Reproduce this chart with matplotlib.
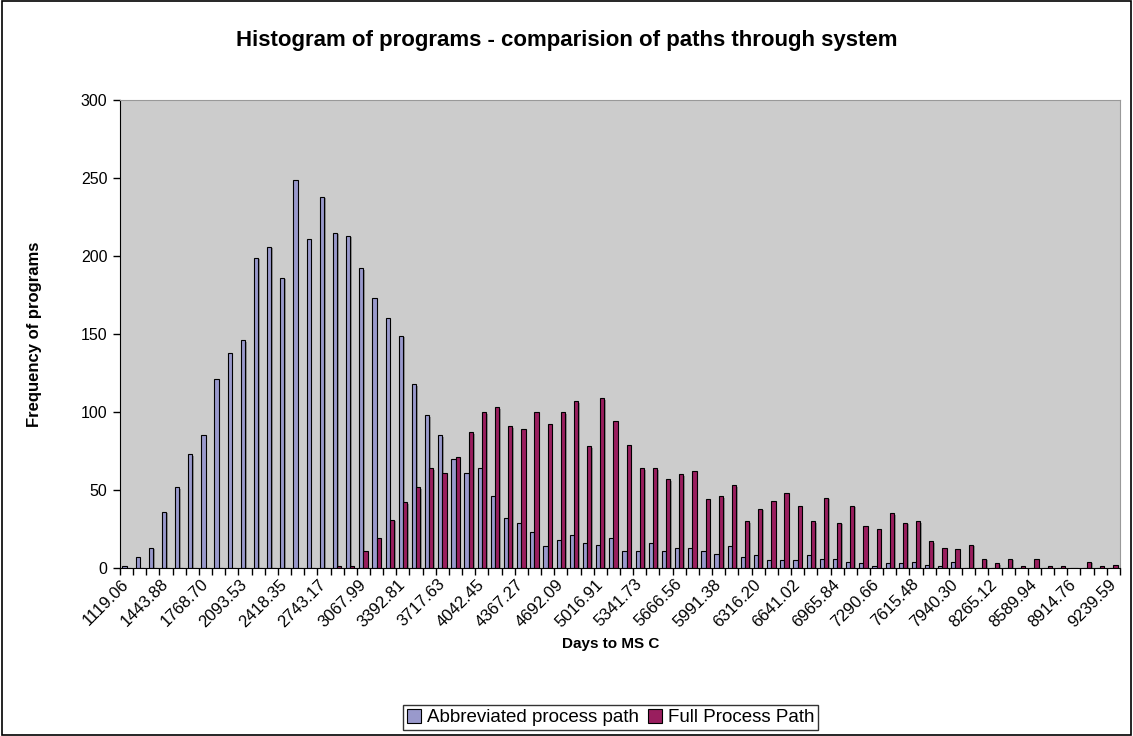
import matplotlib
matplotlib.use("Agg")
import matplotlib.pyplot as plt
import matplotlib.patheffects as pe
from matplotlib.patches import Rectangle
import numpy as np

plt.rcParams['font.family'] = ['Liberation Sans', 'DejaVu Sans']

# x axis labels (shown on every 3rd bin)
tick_labels = ['1119.06', '1443.88', '1768.70', '2093.53', '2418.35', '2743.17',
               '3067.99', '3392.81', '3717.63', '4042.45', '4367.27', '4692.09',
               '5016.91', '5341.73', '5666.56', '5991.38', '6316.20', '6641.02',
               '6965.84', '7290.66', '7615.48', '7940.30', '8265.12', '8589.94',
               '8914.76', '9239.59']

abbreviated = [1, 7, 13, 36, 52, 73, 85, 121, 138, 146,
               199, 206, 186, 249, 211, 238, 215, 213, 192, 173,
               160, 149, 118, 98, 85, 70, 61, 64, 46, 32,
               29, 23, 14, 18, 21, 16, 15, 19, 11, 11,
               16, 11, 13, 13, 11, 9, 14, 7, 8, 5,
               5, 5, 8, 6, 6, 4, 3, 1, 3, 3,
               4, 2, 1, 4, 0, 0, 0, 0, 0, 0,
               0, 0, 0, 0, 0, 0]

full_path = [0, 0, 0, 0, 0, 0, 0, 0, 0, 0,
             0, 0, 0, 0, 0, 0, 1, 1, 11, 19,
             31, 42, 52, 64, 61, 71, 87, 100, 103, 91,
             89, 100, 92, 100, 107, 78, 109, 94, 79, 64,
             64, 57, 60, 62, 44, 46, 53, 30, 38, 43,
             48, 40, 30, 45, 29, 40, 27, 25, 35, 29,
             30, 17, 13, 12, 15, 6, 3, 6, 1, 6,
             1, 1, 0, 4, 1, 2]

series_names = ['Abbreviated process path', 'Full Process Path']
blue = '#9999cc'
plum = '#991e5e'

fig = plt.figure(figsize=(11.33, 7.36), dpi=100)
fig.patches.append(Rectangle((0.002, 0.002), 0.996, 0.996, transform=fig.transFigure,
                             fill=False, edgecolor='black', linewidth=1.2))
ax = fig.add_axes([0.1059, 0.2283, 0.8826, 0.6359])
ax.set_facecolor('#cccccc')

ind = np.arange(len(abbreviated))
width = 0.32
shadow = [pe.SimplePatchShadow(offset=(1.2, -1.2), shadow_rgbFace='#777777', alpha=0.7), pe.Normal()]
b1 = ax.bar(ind - width / 2, abbreviated, width, color=blue, edgecolor='black',
            linewidth=0.8, label=series_names[0], path_effects=shadow)
b2 = ax.bar(ind + width / 2, full_path, width, color=plum, edgecolor='black',
            linewidth=0.8, label=series_names[1], path_effects=shadow)

ax.set_xticks(ind[::3])
ax.set_xticklabels(tick_labels, rotation=45, ha='right', va='center',
                   rotation_mode='anchor', fontsize=12)
ax.set_xticks(np.arange(-0.5, len(ind), 1), minor=True)
ax.tick_params(axis='x', which='major', length=0, pad=10)
ax.tick_params(axis='x', which='minor', direction='out', length=5, width=1)

ax.set_xlim(-0.5, len(ind) - 0.5)
ax.set_ylim(0, 300)
ax.set_yticks(np.arange(0, 301, 50))
ax.tick_params(axis='y', direction='out', length=5, width=1, labelsize=11.5, pad=4)

for s in ['left', 'bottom']:
    ax.spines[s].set_color('black')
for s in ['top', 'right']:
    ax.spines[s].set_color('#999999')

ax.set_ylabel('Frequency of programs', fontsize=12, fontweight='bold', labelpad=28)
ax.set_xlabel('Days to MS C', fontsize=11, fontweight='bold')
ax.xaxis.set_label_coords(0.491, -0.147)
fig.text(0.5, 0.945, 'Histogram of programs - comparision of paths through system',
         ha='center', va='center', fontsize=16, fontweight='bold')

leg = fig.legend(handles=[b1, b2], loc='center', bbox_to_anchor=(0.539, 0.025), ncol=2,
                 frameon=True, fancybox=False, fontsize=13.5, handlelength=0.75,
                 handleheight=0.75, handletextpad=0.3, columnspacing=0.5,
                 borderpad=0.22, borderaxespad=0)
leg.get_frame().set_edgecolor('black')
leg.get_frame().set_linewidth(1)
for h in leg.legend_handles:
    h.set_path_effects([])

fig.savefig('out.png', dpi=100)
